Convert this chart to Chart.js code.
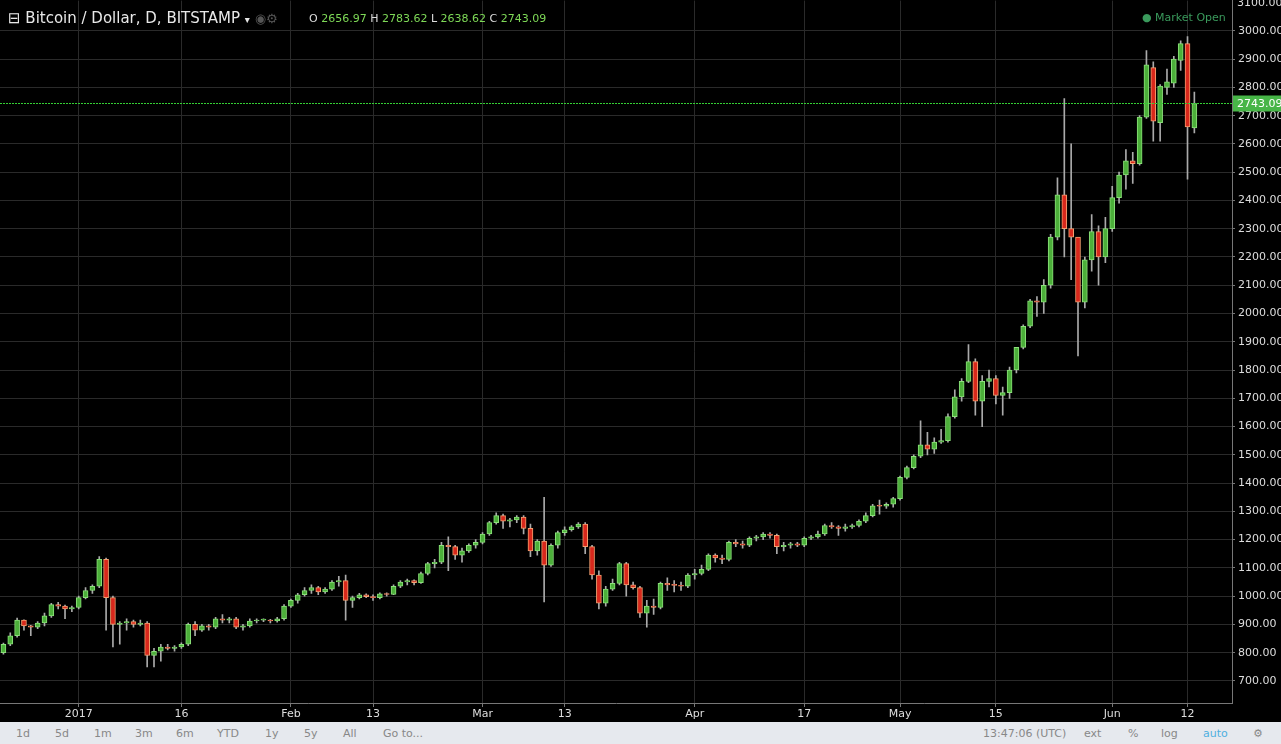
<!DOCTYPE html>
<html>
<head>
<meta charset="utf-8">
<script src="https://cdn.jsdelivr.net/npm/chart.js@4"></script>
<style>
  body { margin: 0; background: #000; width: 1281px; height: 744px; overflow: hidden; font-family: "DejaVu Sans", sans-serif; }
  #wrap { position: absolute; left: 0; top: -9px; width: 1281px; height: 731px; }
  #head { position: absolute; left: 8px; top: 9px; color: #e8e8e8; font-size: 15px; white-space: nowrap; }
  #ohlc { position: absolute; left: 309px; top: 12px; font-size: 11px; white-space: nowrap; color: #ddd; }
  #ohlc .v { color: #7ed957; }
  #mkt { position: absolute; left: 1142px; top: 11px; color: #3a9a5c; font-size: 11px; }
  #top { position: absolute; left: 1237px; top: -4px; color: #ddd; font-size: 11px; }
  #bar { position: absolute; left: 0; top: 722px; width: 1281px; height: 22px; background: #e6e9ee; color: #888; font-size: 11px; }
  #bar span { position: absolute; top: 5px; }
</style>
</head>
<body>
<div id="wrap"><canvas id="c" width="1281" height="731"></canvas></div>
<div id="head">&#8863; Bitcoin / Dollar, D, BITSTAMP <span style="font-size:10px">&#9662;</span>
  <span style="color:#555;font-size:13px">&#9673;&#9881;</span></div>
<div id="ohlc">O <span class="v">2656.97</span> H <span class="v">2783.62</span>
  L <span class="v">2638.62</span> C <span class="v">2743.09</span></div>
<div id="mkt">&#9679; Market Open</div>
<div id="top">3100.00</div>
<div id="bar">
  <span style="left:16px">1d</span><span style="left:55px">5d</span><span style="left:94px">1m</span>
  <span style="left:135px">3m</span><span style="left:176px">6m</span><span style="left:217px">YTD</span>
  <span style="left:265px">1y</span><span style="left:304px">5y</span><span style="left:343px">All</span>
  <span style="left:383px">Go to...</span>
  <span style="left:983px">13:47:06 (UTC)</span><span style="left:1084px">ext</span>
  <span style="left:1128px">%</span><span style="left:1161px">log</span>
  <span style="left:1203px;color:#4fb0e0">auto</span><span style="left:1253px">&#9881;</span>
</div>
<script>
const START = Date.UTC(2016, 11, 21);
const DAYS = 180;

const opens = [800,830,860,915,895,890,905,930,970,965,955,
  960,995,1020,1035,1130,995,900,905,910,900,905,790,805,820,815,820,830,900,880,895,890,920,915,920,890,895,912,915,915,912,920,
  965,985,1005,1020,1030,1015,1025,1050,1055,985,995,1005,998,995,1008,1006,1035,1050,1055,1048,1080,1115,1120,1180,1175,1145,1160,1180,
  1190,1220,1260,1285,1265,1270,1280,1240,1160,1195,1110,1180,1225,1235,1245,1255,1175,1075,975,1025,1045,1115,1040,1030,940,965,960,1045,1040,1038,1035,
  1075,1080,1095,1145,1135,1130,1190,1185,1180,1205,1210,1220,1215,1175,1180,1185,1180,1205,1210,1220,1250,1245,1240,1245,1250,1265,1285,1320,1318,1325,
  1345,1420,1455,1495,1535,1520,1545,1550,1635,1705,1760,1830,1690,1760,1770,1710,1720,1800,1880,1955,2045,2040,2100,2270,2420,2300,2270,2040,2190,2290,2200,
  2300,2410,2490,2540,2530,2695,2870,2675,2800,2815,2895,2955,2656.97];
const highs = [834,870,922,916,897,910,940,975,978,968,965,
  1000,1030,1040,1140,1135,1000,910,920,915,915,910,815,830,830,825,835,905,910,900,900,925,935,925,925,900,920,920,920,918,925,
  970,990,1010,1030,1040,1035,1030,1055,1070,1075,1000,1010,1008,1005,1012,1012,1040,1055,1060,1058,1085,1120,1130,1190,1210,1180,1170,1185,1200,
  1225,1265,1295,1290,1275,1285,1285,1255,1200,1350,1185,1230,1245,1250,1260,1260,1180,1090,1035,1060,1120,1120,1050,1035,985,990,1050,1065,1055,1050,1080,
  1095,1110,1150,1150,1145,1195,1200,1195,1210,1215,1225,1225,1220,1190,1190,1190,1210,1215,1230,1255,1260,1250,1255,1255,1270,1295,1325,1340,1330,1350,
  1425,1460,1500,1620,1580,1560,1590,1645,1730,1770,1890,1840,1780,1800,1780,1740,1810,1880,1960,2050,2060,2120,2280,2480,2760,2600,2240,2200,2350,2310,2340,
  2450,2500,2580,2570,2700,2930,2890,2810,2865,2910,2965,2980,2783.62];
const lows = [795,825,855,880,860,885,895,925,955,920,945,
  955,990,1010,1030,880,820,830,880,890,895,750,750,770,810,805,815,825,860,875,880,885,905,905,885,880,890,905,910,905,908,
  915,960,975,1000,1010,1005,1010,1020,1035,915,960,990,995,985,990,1000,1005,1030,1040,1040,1045,1075,1100,1115,1090,1130,1120,1155,1170,
  1185,1215,1255,1240,1245,1260,1220,1140,1145,980,1105,1170,1215,1230,1240,1150,1060,955,965,1020,1040,1000,1025,925,890,935,955,1020,1015,1020,1030,
  1060,1075,1090,1120,1115,1125,1175,1170,1175,1195,1200,1205,1150,1160,1170,1175,1175,1200,1205,1215,1240,1215,1230,1240,1245,1260,1280,1290,1310,1315,
  1340,1415,1450,1490,1500,1505,1540,1545,1630,1690,1755,1640,1600,1740,1680,1640,1700,1790,1875,1950,1990,2000,2090,2260,2200,2120,1850,2020,2150,2100,2180,
  2290,2390,2440,2460,2525,2690,2610,2610,2775,2800,2860,2475,2638.62];
const closes = [830,860,915,895,890,905,930,970,965,955,960,
  995,1020,1035,1130,995,900,905,910,900,905,790,805,820,815,820,830,900,880,895,890,920,915,920,890,895,912,915,915,912,920,
  965,985,1005,1020,1030,1015,1025,1050,1055,985,995,1005,998,995,1008,1006,1035,1050,1055,1048,1080,1115,1120,1180,1175,1145,1160,1180,1190,
  1220,1260,1285,1265,1270,1280,1240,1160,1195,1110,1180,1225,1235,1245,1255,1175,1075,975,1025,1045,1115,1040,1030,940,965,960,1045,1040,1038,1035,1075,
  1080,1095,1145,1135,1130,1190,1185,1180,1205,1210,1220,1215,1175,1180,1185,1180,1205,1210,1220,1250,1245,1240,1245,1250,1265,1285,1320,1318,1325,1345,
  1420,1455,1495,1535,1520,1545,1550,1635,1705,1760,1830,1690,1760,1770,1710,1720,1800,1880,1955,2045,2040,2100,2270,2420,2300,2270,2040,2190,2290,2200,2300,
  2410,2490,2540,2530,2695,2880,2680,2805,2820,2900,2955,2660,2743.09];
const tickLabels = [["2017-01-01","2017"],["2017-01-16","16"],["2017-02-01","Feb"],["2017-02-13","13"],
  ["2017-03-01","Mar"],["2017-03-13","13"],["2017-04-01","Apr"],["2017-04-17","17"],
  ["2017-05-01","May"],["2017-05-15","15"],["2017-06-01","Jun"],["2017-06-12","12"]];
const LAST = 2743.09;

const dates = [];
for (let i = 0; i < DAYS; i++) dates.push(new Date(START + i * 864e5).toISOString().slice(0, 10));
const tickMap = Object.fromEntries(tickLabels);

const up = (i) => closes[i] >= opens[i];
const bodies = dates.map((d, i) => i < closes.length ? [opens[i], closes[i]] : null);
const wicks = dates.map((d, i) => i < closes.length ? [lows[i], highs[i]] : null);

const priceLine = {
  id: "priceLine",
  afterDraw(chart) {
    const { ctx, chartArea: a, scales: { y } } = chart;
    const py = Math.round(y.getPixelForValue(LAST)) + 0.5;
    ctx.save();
    ctx.strokeStyle = "#35d035";
    ctx.setLineDash([2, 1]);
    ctx.beginPath(); ctx.moveTo(a.left, py); ctx.lineTo(a.right, py); ctx.stroke();
    ctx.setLineDash([]);
    ctx.fillStyle = "#47b547";
    ctx.fillRect(a.right + 1, py - 8, 48, 16);
    ctx.fillStyle = "#fff";
    ctx.font = "11px 'DejaVu Sans'";
    ctx.textBaseline = "middle";
    ctx.fillText(LAST.toFixed(2), a.right + 5, py + 1);
    ctx.restore();
  }
};

new Chart(document.getElementById("c"), {
  type: "bar",
  data: {
    labels: dates,
    datasets: [
      {
        data: wicks, order: 2, grouped: false, barThickness: 1,
        backgroundColor: "#aaaaaa"
      },
      {
        data: bodies, order: 1, grouped: false, barThickness: 5,
        backgroundColor: dates.map((d, i) => i < closes.length && up(i) ? "#4caf3a" : "#d8281c"),
        borderColor: dates.map((d, i) => i < closes.length && up(i) ? "#8be07a" : "#f5a070"),
        borderWidth: 1, borderSkipped: false, minBarLength: 1
      }
    ]
  },
  options: {
    responsive: false, animation: false,
    layout: { padding: 0 },
    plugins: { legend: { display: false }, tooltip: { enabled: false } },
    scales: {
      x: {
        offset: true,
        afterFit: (s) => { s.height = 19; },
        grid: { offset: false, color: "#2a2a2a", drawTicks: true, tickLength: 4, tickColor: "#777" },
        border: { color: "#777" },
        ticks: {
          autoSkip: false, maxRotation: 0, color: "#ddd", padding: 1,
          font: { family: "DejaVu Sans", size: 11 },
          callback: (v, i) => tickMap[dates[i]] ?? null
        }
      },
      y: {
        position: "right", min: 622, max: 3107,
        afterFit: (s) => { s.width = 49; },
        grid: { color: "#2a2a2a", drawTicks: true, tickLength: 3, tickColor: "#777" },
        border: { color: "#777" },
        ticks: {
          stepSize: 100, color: "#ddd", padding: 3,
          font: { family: "DejaVu Sans", size: 11 },
          callback: (v) => v % 100 === 0 ? v.toFixed(2) : null
        }
      }
    }
  },
  plugins: [priceLine]
});
</script>
</body>
</html>
